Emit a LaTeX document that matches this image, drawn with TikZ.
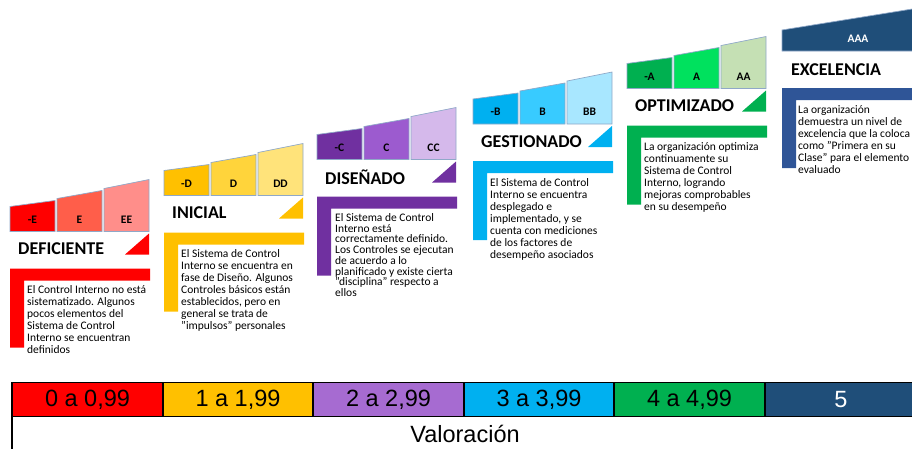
\documentclass[tikz,border=0pt]{standalone}
\usepackage{fontspec}
\setmainfont{Carlito}
\newfontfamily\tabfont{Liberation Sans}
\definecolor{boxedge}{HTML}{8FA8C8}
\definecolor{rA}{HTML}{FF0000}\definecolor{rB}{HTML}{FF5E4A}\definecolor{rC}{HTML}{FF8E8A}
\definecolor{yA}{HTML}{FFC000}\definecolor{yB}{HTML}{FFD43B}\definecolor{yC}{HTML}{FFE37A}
\definecolor{pA}{HTML}{7030A0}\definecolor{pB}{HTML}{9C5BCF}\definecolor{pC}{HTML}{D5B9EB}
\definecolor{bA}{HTML}{00B0F0}\definecolor{bB}{HTML}{38CBFF}\definecolor{bC}{HTML}{A8E7FF}
\definecolor{gA}{HTML}{00B050}\definecolor{gB}{HTML}{00E15E}\definecolor{gC}{HTML}{C5E0B4}
\definecolor{navy}{HTML}{1F4E79}\definecolor{navyL}{HTML}{2F5597}
\definecolor{tpurple}{HTML}{A66BD1}
\newcommand\tstrut{\rule{0pt}{8.8pt}}
% #1 x0, #2 title y, #3 c1, #4 c2, #5 c3, #6 letter, #7 title, #8 name
\newcommand\mystage[8]{%
  \filldraw[fill=#3, boxline] (#1,#2-17.5) -- (#1,#2-42.5) -- (#1+45,#2-48.5) -- (#1+45,#2-17.5) -- cycle;
  \filldraw[fill=#4, boxline] (#1+47,#2-17.5) -- (#1+47,#2-50.5) -- (#1+92,#2-58.5) -- (#1+92,#2-17.5) -- cycle;
  \filldraw[fill=#5, boxline] (#1+94,#2-17.5) -- (#1+94,#2-60.5) -- (#1+139,#2-69.5) -- (#1+139,#2-17.5) -- cycle;
  \node[lbl] (#8a) at (#1+22.5,#2-29.5) {-#6};
  \node[lbl] (#8b) at (#1+69.5,#2-29.5) {#6};
  \node[lbl] (#8c) at (#1+116.5,#2-29.5) {#6#6};
  \fill[#3] (#1+115,#2+5.5) -- (#1+139,#2+5.5) -- (#1+139,#2-15.5) -- cycle;
  \fill[#3] (#1,#2+19.5) -- (#1+140,#2+19.5) -- (#1+140,#2+31.5) -- (#1+14,#2+31.5) -- (#1+14,#2+98.5) -- (#1,#2+98.5) -- cycle;
  \node[ttl] (#8t) at (#1+8,#2) {#7};
}
\begin{document}
\begin{tikzpicture}[x=1pt,y=-1pt,
  boxline/.style={draw=boxedge, line width=0.7pt},
  lbl/.style={font=\bfseries\fontsize{11.5}{12}\selectfont, inner sep=0pt},
  ttl/.style={font=\bfseries\fontsize{18}{20}\selectfont, anchor=west, inner sep=0pt},
  body/.style={font=\fontsize{11.5}{12}\selectfont, align=left, anchor=north west, inner sep=0pt},
  bodytight/.style={font=\fontsize{11.5}{10.7}\selectfont, align=left, anchor=north west, inner sep=0pt},
  cell/.style={draw=black, line width=1.6pt, minimum height=34pt, inner sep=0pt, font=\tabfont\fontsize{23.5}{26}\selectfont},
]
\useasboundingbox (0,0) rectangle (912,448);
\clip (0,0) rectangle (912,448);

\mystage{10}{249}{rA}{rB}{rC}{E}{DEFICIENTE}{s1}
\mystage{164}{213}{yA}{yB}{yC}{D}{INICIAL}{s2}
\mystage{317}{177}{pA}{pB}{pC}{C}{DISEÑADO}{s3}
\mystage{473}{141.5}{bA}{bB}{bC}{B}{GESTIONADO}{s4}
\mystage{627}{106}{gA}{gB}{gC}{A}{OPTIMIZADO}{s5}

% stage 6
\filldraw[fill=navy, boxline] (782,51) -- (782,30) -- (934,5.5) -- (934,51) -- cycle;
\node[lbl, text=white] (s6a) at (858,39) {AAA};
\fill[navyL] (782,88) -- (934,88) -- (934,100) -- (796,100) -- (796,168) -- (782,168) -- cycle;
\node[ttl] (s6t) at (791,70) {EXCELENCIA};

% body texts
\node[body] (t1) at (27,284.5) {\tstrut El Control Interno no está\\sistematizado. Algunos\\pocos elementos del\\Sistema de Control\\Interno se encuentran\\definidos};
\node[body] (t2) at (181,248.5) {\tstrut El Sistema de Control\\Interno se encuentra en\\fase de Diseño. Algunos\\Controles básicos están\\establecidos, pero en\\general se trata de\\"impulsos" personales};
\node[bodytight] (t3) at (335,212.5) {\tstrut El Sistema de Control\\Interno está\\correctamente definido.\\Los Controles se ejecutan\\de acuerdo a lo\\planificado y existe cierta\\"disciplina" respecto a\\ellos};
\node[body] (t4) at (490,177) {\tstrut El Sistema de Control\\Interno se encuentra\\desplegado e\\implementado, y se\\cuenta con mediciones\\de los factores de\\desempeño asociados};
\node[body] (t5) at (644,141.5) {\tstrut La organización optimiza\\continuamente su\\Sistema de Control\\Interno, logrando\\mejoras comprobables\\en su desempeño};
\node[body] (t6) at (798,104.5) {\tstrut La organización\\demuestra un nivel de\\excelencia que la coloca\\como "Primera en su\\Clase" para el elemento\\evaluado};

% table
\node[cell, fill=rA, minimum width=151pt] (c1) at (87.5,399.5) {0 a 0,99};
\node[cell, fill=yA, minimum width=150pt] (c2) at (238,399.5) {1 a 1,99};
\node[cell, fill=tpurple, minimum width=151pt] (c3) at (388.5,399.5) {2 a 2,99};
\node[cell, fill=bA, minimum width=150pt] (c4) at (539,399.5) {3 a 3,99};
\node[cell, fill=gA, minimum width=151pt] (c5) at (689.5,399.5) {4 a 4,99};
\node[cell, fill=navy, text=white, minimum width=152pt] (c6) at (841,399.5) {5};
\node[cell, fill=white, minimum width=906pt] (val) at (465,433.5) {Valoración};
\end{tikzpicture}
\end{document}
